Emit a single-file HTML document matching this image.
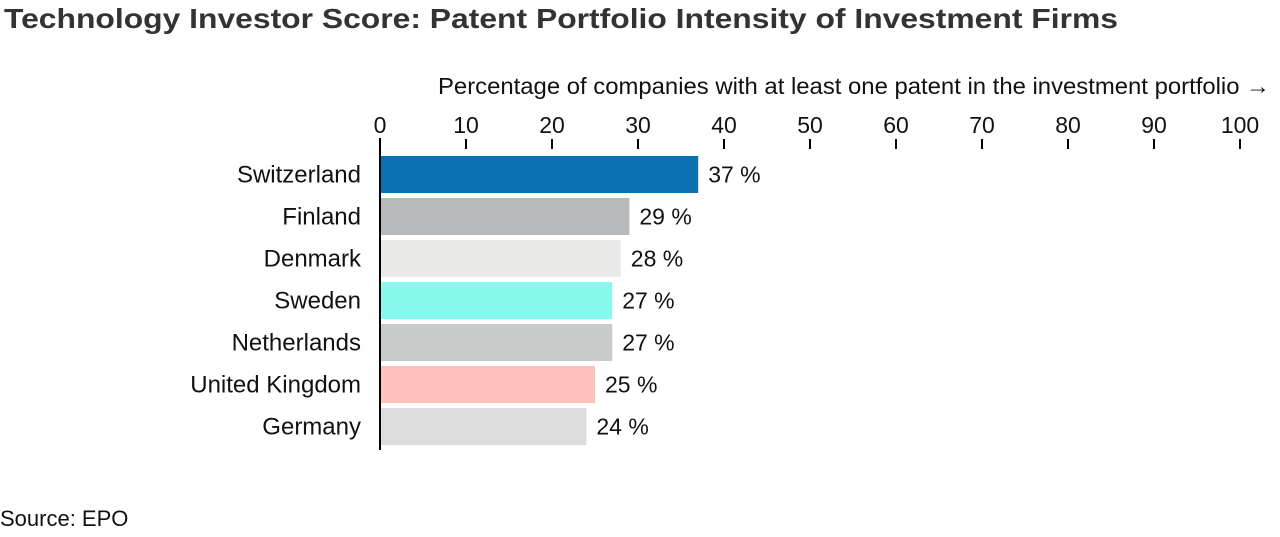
<!DOCTYPE html>
<html><head><meta charset="utf-8"><style>
body{margin:0;width:1280px;height:532px;background:#fff;font-family:"Liberation Sans",Arial,sans-serif;overflow:hidden}
text{font-family:"Liberation Sans",Arial,sans-serif;fill:#111}
</style></head><body>
<svg id="chart" width="1280" height="532" xmlns="http://www.w3.org/2000/svg">
<text x="4" y="28" font-size="28" font-weight="bold" textLength="1114" lengthAdjust="spacingAndGlyphs" style="fill:#333">Technology Investor Score: Patent Portfolio Intensity of Investment Firms</text>
<text x="1270" y="94" font-size="23" text-anchor="end" textLength="832" lengthAdjust="spacingAndGlyphs">Percentage of companies with at least one patent in the investment portfolio →</text>
<text x="0" y="526" font-size="22">Source: EPO</text>
<g id="ticks"></g><g id="bars"></g>
<line x1="380" x2="380" y1="138" y2="450" stroke="#000" stroke-width="2"/>
</svg>
<script>
const categories=["Switzerland","Finland","Denmark","Sweden","Netherlands","United Kingdom","Germany"];
const values=[37,29,28,27,27,25,24];
const colors=["#0a70b0","#b8b9bb","#e9e9e7","#88f9ee","#c9cbca","#ffc1b9","#dcdcdc"];
const tickValues=[0,10,20,30,40,50,60,70,80,90,100];
const NS="http://www.w3.org/2000/svg";
const x=v=>380+v*8.6;
const y=i=>156+i*42;
const bh=37;
const tg=document.getElementById("ticks"),bg=document.getElementById("bars");
function mk(t,a,p){const e=document.createElementNS(NS,t);for(const k in a)e.setAttribute(k,a[k]);p.appendChild(e);return e;}
tickValues.forEach(v=>{
 const l=mk("line",{x1:x(v),x2:x(v),y1:139,y2:149,stroke:"#000","stroke-width":2},tg);
 
 
 const t=mk("text",{x:x(v),y:133,"font-size":23,"text-anchor":"middle"},tg);t.textContent=v;
 
 
});
categories.forEach((c,i)=>{
 const r=mk("rect",{x:380,y:y(i),width:x(values[i])-380,height:bh,fill:colors[i]},bg);
 
 
 const lb=mk("text",{x:361,y:y(i)+bh/2+8,"font-size":24,"text-anchor":"end"},bg);lb.textContent=c;
 
 
 const vl=mk("text",{x:x(values[i])+10,y:y(i)+bh/2+8,"font-size":23},bg);vl.textContent=values[i]+" %";
 
 
});
</script>
</body></html>
